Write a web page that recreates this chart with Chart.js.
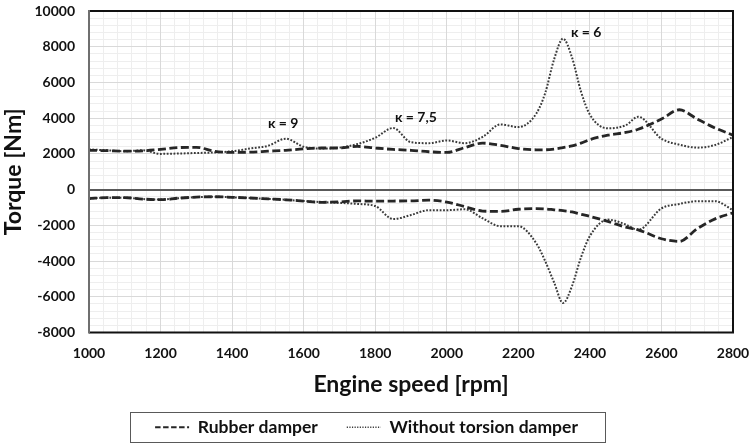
<!DOCTYPE html>
<html>
<head>
<meta charset="utf-8">
<script src="https://cdn.jsdelivr.net/npm/chart.js@4.4.1/dist/chart.umd.min.js"></script>
<style>
  html, body { margin: 0; padding: 0; background: #fff; }
  #wrap { width: 751px; height: 443px; }
</style>
</head>
<body>
<div id="wrap"><canvas id="torque-chart" width="751" height="443"></canvas></div>
<script>
// engine speed [rpm]
var rpm = [1000,1050,1100,1150,1200,1250,1300,1350,1400,1450,1500,1550,1600,1650,1700,1750,1800,1850,1900,1950,
           2000,2050,2100,2150,2200,2250,2275,2300,2325,2350,2375,2400,2450,2500,2535,2600,2650,2700,2750,2800];

// torque [Nm], upper and lower envelope
var rubber_max = [2200,2180,2150,2170,2250,2350,2370,2150,2080,2100,2150,2200,2280,2330,2330,2420,2330,2250,2200,2120,
                  2080,2350,2600,2480,2300,2230,2230,2270,2350,2450,2600,2800,3050,3200,3380,3950,4470,3950,3450,3050];
var without_max = [2250,2200,2150,2200,2000,2020,2050,2080,2150,2300,2450,2850,2400,2300,2350,2550,2900,3450,2650,2600,
                   2750,2600,2950,3650,3500,4250,5400,7300,8450,7400,5500,4200,3430,3600,4080,2850,2520,2350,2500,2950];
var rubber_min = [-500,-450,-450,-530,-560,-480,-420,-400,-430,-470,-520,-570,-640,-710,-690,-630,-650,-640,-630,-590,
                  -700,-950,-1200,-1220,-1100,-1060,-1080,-1130,-1180,-1250,-1380,-1500,-1780,-2100,-2250,-2750,-2900,-2190,-1640,-1300];
var without_min = [-500,-450,-450,-530,-560,-480,-420,-400,-430,-470,-520,-570,-640,-700,-740,-800,-920,-1650,-1420,-1150,
                   -1150,-1100,-1600,-2050,-2050,-3000,-4000,-5200,-6350,-5400,-3800,-2600,-1680,-1950,-2250,-1050,-800,-650,-650,-1150];

var xTicks = [1000, 2800, 200];
var yTicks = [-8000, 10000, 2000];

// order labels
var notes = ["\u03ba = 9", "\u03ba = 7,5", "\u03ba = 6"];
var notes_rpm = [1500, 1855, 2347];
var notes_val = [3700, 4030, 8820];

var FONT = "Lato, 'Open Sans', sans-serif";

function pts(ys) {
    return rpm.map(function(r, i) { return {x: r, y: ys[i]}; });
}

var dashed = {borderColor: '#262626', borderWidth: 2.8, borderDash: [8, 3.5]};
var dotted = {borderColor: '#3a3a3a', borderWidth: 2, borderDash: [1.8, 1.6]};

function line(label, ys, st) {
    return {
        label: label, data: pts(ys),
        borderColor: st.borderColor, backgroundColor: st.borderColor,
        borderWidth: st.borderWidth, borderDash: st.borderDash,
        pointRadius: 0, pointStyle: 'line', fill: false,
        cubicInterpolationMode: 'monotone'
    };
}

var frame = {
    id: 'frame',
    afterDatasetsDraw: function(chart) {
        var a = chart.chartArea, c = chart.ctx;
        c.save();
        c.lineWidth = 2;
        c.strokeStyle = '#111';
        c.beginPath();
        c.moveTo(a.left, a.top); c.lineTo(a.right, a.top);
        c.lineTo(a.right, a.bottom); c.lineTo(a.left, a.bottom);
        c.stroke();
        c.strokeStyle = '#6f6f6f';
        c.beginPath();
        c.moveTo(a.left, a.top - 1); c.lineTo(a.left, a.bottom + 1);
        c.stroke();
        // kappa labels
        c.font = 'bold 14px ' + FONT;
        c.fillStyle = '#111';
        c.textBaseline = 'middle';
        c.textAlign = 'left';
        for (var i = 0; i < notes.length; i++) {
            c.fillText(notes[i], chart.scales.x.getPixelForValue(notes_rpm[i]), chart.scales.y.getPixelForValue(notes_val[i]));
        }
        c.restore();
    },
    afterDraw: function(chart) {
        var lg = chart.legend, c = chart.ctx;
        if (!lg || !lg.legendHitBoxes.length) return;
        var l = 1e9, r = -1e9, t = 1e9, b = -1e9;
        lg.legendHitBoxes.forEach(function(h) {
            l = Math.min(l, h.left); r = Math.max(r, h.left + h.width);
            t = Math.min(t, h.top); b = Math.max(b, h.top + h.height);
        });
        var cy = (t + b) / 2;
        c.save();
        c.strokeStyle = '#595959';
        c.lineWidth = 1;
        c.strokeRect(Math.round(l - 25) + 0.5, Math.round(cy - 15) + 0.5, Math.round(r - l + 52), 30);
        c.restore();
    }
};

var ctx = document.getElementById("torque-chart");
var torqueChart = new Chart(ctx, {
    type: 'line',
    data: {
        datasets: [
            line('Rubber damper', rubber_max, dashed),
            line('Without torsion damper', without_max, dotted),
            line('Rubber damper (min)', rubber_min, dashed),
            line('Without torsion damper (min)', without_min, dotted)
        ]
    },
    options: {
        responsive: false,
        animation: false,
        layout: { padding: { left: 0, right: 18, top: 11, bottom: -3 } },
        plugins: {
            tooltip: { enabled: false },
            legend: {
                position: 'bottom',
                labels: {
                    usePointStyle: true,
                    pointStyleWidth: 34,
                    boxHeight: 14,
                    padding: 7,
                    color: '#111',
                    font: { family: FONT, size: 17.5, weight: 'bold' },
                    filter: function(item) { return item.datasetIndex < 2; },
                    generateLabels: function(chart) {
                        var items = Chart.defaults.plugins.legend.labels.generateLabels(chart);
                        items.forEach(function(it) {
                            it.pointStyle = 'line';
                            it.lineDash = it.datasetIndex % 2 === 0 ? [5.5, 2.5] : [1.2, 1.4];
                            it.lineWidth = it.datasetIndex % 2 === 0 ? 2.2 : 1.3;
                            if (it.datasetIndex === 0) it.text = it.text + '\u2003\u2002';
                        });
                        return items;
                    }
                }
            }
        },
        scales: {
            xMinor: {
                type: 'linear', position: 'bottom', min: xTicks[0], max: xTicks[1],
                ticks: { display: false, stepSize: 40, autoSkip: false },
                grid: { color: '#eeeeee', drawTicks: false },
                border: { display: false },
                afterFit: function(s) { s.height = 0; }
            },
            yMinor: {
                type: 'linear', position: 'left', min: yTicks[0], max: yTicks[1],
                ticks: { display: false, stepSize: 400, autoSkip: false },
                grid: { color: '#eeeeee', drawTicks: false },
                border: { display: false },
                afterFit: function(s) { s.width = 0; }
            },
            x: {
                type: 'linear', min: xTicks[0], max: xTicks[1],
                afterFit: function(s) { s.height = 79; s.paddingLeft = 0; s.paddingRight = 0; },
                ticks: {
                    stepSize: xTicks[2], padding: 13, color: '#111',
                    font: { family: FONT, size: 14, weight: 'bold' },
                    callback: function(v) { return String(v); }
                },
                grid: { color: '#d9d9d9', drawTicks: false },
                border: { display: false },
                title: {
                    display: true, text: 'Engine speed [rpm]', color: '#111',
                    font: { family: FONT, size: 23, weight: 'bold' },
                    padding: { top: 12, bottom: 13 }
                }
            },
            y: {
                type: 'linear', min: yTicks[0], max: yTicks[1],
                afterFit: function(s) { s.width = 89; s.paddingTop = 0; s.paddingBottom = 0; },
                ticks: {
                    stepSize: yTicks[2], padding: 14, color: '#111',
                    font: { family: FONT, size: 14, weight: 'bold' },
                    callback: function(v) { return String(v); }
                },
                grid: {
                    drawTicks: false,
                    color: function(c) { return c.tick && c.tick.value === 0 ? '#595959' : '#d9d9d9'; },
                    lineWidth: function(c) { return c.tick && c.tick.value === 0 ? 2 : 1; }
                },
                border: { display: false },
                title: {
                    display: true, text: 'Torque [Nm]', color: '#111',
                    font: { family: FONT, size: 23, weight: 'bold' },
                    padding: { top: 0, bottom: 4 }
                }
            }
        }
    },
    plugins: [frame]
});
</script>
</body>
</html>
